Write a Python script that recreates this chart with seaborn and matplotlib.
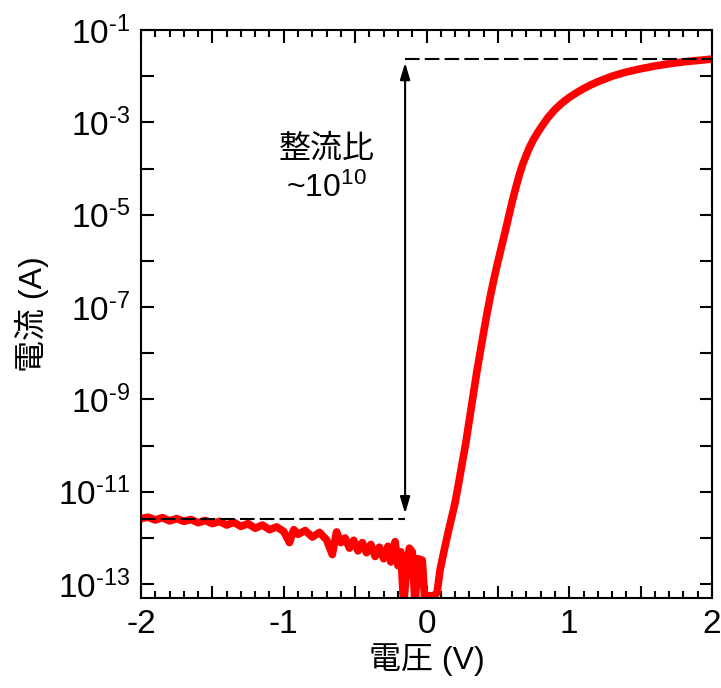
import numpy as np
import pandas as pd
import matplotlib
matplotlib.use("Agg")
import matplotlib.pyplot as plt
import matplotlib.ticker as mticker
import seaborn as sns

# I-V data (current given as log10 of amps)
voltage_rev = [-2.00, -1.95, -1.90, -1.85, -1.80, -1.75, -1.70, -1.65, -1.60, -1.55,
               -1.50, -1.45, -1.40, -1.35, -1.30, -1.25, -1.20, -1.15, -1.10, -1.05,
               -1.00, -0.96, -0.93, -0.90, -0.85, -0.80, -0.75, -0.70, -0.66, -0.63,
               -0.60, -0.57, -0.54, -0.51, -0.48, -0.45, -0.42, -0.39, -0.36, -0.33,
               -0.30, -0.27, -0.25, -0.22, -0.20, -0.18, -0.16, -0.14, -0.12, -0.10,
               -0.08, -0.06, -0.03, -0.01, 0.02, 0.05]
logI_rev = [-11.58, -11.55, -11.61, -11.56, -11.63, -11.58, -11.64, -11.60, -11.67, -11.62,
            -11.69, -11.64, -11.72, -11.66, -11.75, -11.69, -11.79, -11.72, -11.82, -11.76,
            -11.86, -12.10, -11.82, -11.92, -11.84, -11.98, -11.88, -12.04, -12.36, -11.87,
            -12.10, -12.00, -12.22, -12.05, -12.28, -12.10, -12.32, -12.14, -12.40, -12.20,
            -12.45, -12.18, -12.52, -12.08, -12.60, -12.30, -13.45, -12.70, -12.22, -12.30,
            -13.45, -12.45, -12.48, -13.45, -13.25, -13.25]

voltage_fwd = [0.074, 0.095, 0.125, 0.15, 0.175, 0.20, 0.225, 0.25, 0.275, 0.30,
               0.325, 0.35, 0.375, 0.40, 0.425, 0.45, 0.475, 0.50, 0.525, 0.55,
               0.575, 0.60, 0.625, 0.65, 0.675, 0.70, 0.725, 0.75, 0.775, 0.80,
               0.85, 0.90, 0.95, 1.00, 1.05, 1.10, 1.15, 1.20, 1.30, 1.40,
               1.50, 1.60, 1.70, 1.80, 1.90, 2.00]
logI_fwd = [-13.19, -12.69, -12.25, -11.90, -11.57, -11.24, -10.82, -10.38, -9.95, -9.45,
            -8.95, -8.45, -8.00, -7.55, -7.12, -6.72, -6.36, -6.02, -5.70, -5.38,
            -5.05, -4.72, -4.42, -4.14, -3.90, -3.70, -3.52, -3.37, -3.24, -3.12,
            -2.90, -2.72, -2.58, -2.46, -2.36, -2.27, -2.19, -2.12, -2.00, -1.91,
            -1.84, -1.78, -1.73, -1.69, -1.66, -1.63]

# rectification ratio marks
arrow_v = -0.15
low_level = 2.6e-12
high_level = 2.3e-2

df = pd.DataFrame({
    "V": voltage_rev + voltage_fwd,
    "I": 10.0 ** np.array(logI_rev + logI_fwd),
})

sns.set_style("ticks")
plt.rcParams["font.family"] = ["Liberation Sans", "Noto Sans CJK JP"]
plt.rcParams["mathtext.fontset"] = "custom"
plt.rcParams["mathtext.rm"] = "Liberation Sans"
plt.rcParams["mathtext.it"] = "Liberation Sans"
plt.rcParams["mathtext.bf"] = "Liberation Sans"
for k in ["text.color", "axes.labelcolor", "xtick.color", "ytick.color", "axes.edgecolor"]:
    plt.rcParams[k] = "black"

fig = plt.figure(figsize=(7.21, 6.88), dpi=100)
ax = fig.add_axes([0.1956, 0.1308, 0.7919, 0.8256])

sns.lineplot(data=df, x="V", y="I", ax=ax, color="#ff0000", linewidth=5.5,
             sort=False, estimator=None)
ax.set_yscale("log")
ax.set_xlim(-2, 2)
ax.set_ylim(10 ** -13.3, 1e-1)

# dashed reference levels and double arrow
ax.plot([-2, arrow_v], [low_level, low_level], color="black", lw=1.5,
        linestyle=(0, (7, 2.5)))
ax.plot([arrow_v, 2], [high_level, high_level], color="black", lw=1.5,
        linestyle=(0, (7, 2.5)))
ax.annotate("", xy=(arrow_v, high_level * 0.85), xytext=(arrow_v, low_level * 1.3),
            arrowprops=dict(arrowstyle="<|-|>,head_length=1.0,head_width=0.3",
                            color="black", lw=1.5, shrinkA=0, shrinkB=0))

ax.text(-0.70, 10 ** -3.6, "整流比", fontsize=23, ha="center", va="center")
ax.text(-0.70, 10 ** -4.42, r"~$10^{10}$", fontsize=23, ha="center", va="center")

# ticks
ax.xaxis.set_major_locator(mticker.MultipleLocator(0.5))
ax.xaxis.set_minor_locator(mticker.MultipleLocator(0.1))
ax.xaxis.set_major_formatter(mticker.FuncFormatter(
    lambda v, p: f"{v:.0f}" if abs(v - round(v)) < 1e-6 else ""))
yt = [10.0 ** e for e in range(-13, 0)]
ax.yaxis.set_major_locator(mticker.FixedLocator(yt))
ax.yaxis.set_minor_locator(mticker.NullLocator())
hyph = "\u2010"
ax.set_yticklabels(["$10^{" + hyph + str(-e) + "}$" if e % 2 else "" for e in range(-13, 0)])

ax.tick_params(which="both", direction="in", top=True, right=True, width=1.5,
               labelsize=24, pad=8)
ax.tick_params(which="major", length=9)
ax.tick_params(which="minor", length=5)
for s in ax.spines.values():
    s.set_linewidth(1.5)

ax.set_xlabel("電圧 (V)", fontsize=23, labelpad=2)
ax.set_ylabel("電流 (A)", fontsize=23, labelpad=6)

fig.savefig("out.png", dpi=100)
